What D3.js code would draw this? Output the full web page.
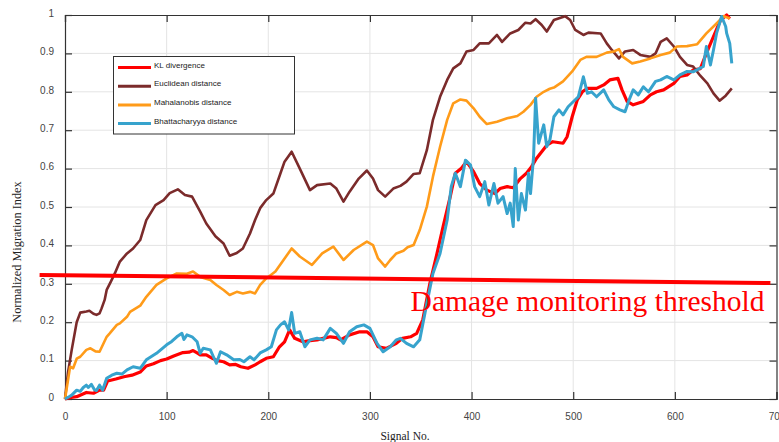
<!DOCTYPE html>
<html>
<head>
<meta charset="utf-8">
<script src="https://cdn.jsdelivr.net/npm/d3@7"></script>
<style>
  body { margin: 0; background: #fff; }
  svg { display: block; }
</style>
</head>
<body>
<svg id="chart"></svg>
<script>
// values: [signal no., normalized index]
const klDivergence = [[0,0],[6,0.004],[11.5,0.006],[21,0.017],[28,0.015],[34,0.023],[38,0.023],[42,0.047],[50,0.052],[58,0.058],[66,0.062],[74,0.07],[80,0.086],[87,0.092],[94,0.1],[100,0.104],[107,0.112],[116,0.121],[122,0.122],[126,0.126],[130,0.12],[133,0.115],[139,0.115],[145,0.106],[150,0.1],[156,0.097],[162,0.089],[168,0.09],[173,0.084],[180,0.08],[187,0.089],[192,0.097],[198,0.106],[205,0.11],[211,0.136],[216,0.149],[221,0.18],[226,0.158],[234,0.149],[241,0.152],[248,0.154],[254,0.158],[261,0.162],[267,0.16],[271,0.154],[280,0.167],[290,0.175],[297,0.175],[303,0.162],[308,0.136],[316,0.132],[326,0.145],[332,0.158],[340,0.162],[346,0.171],[352,0.206],[359,0.301],[366,0.379],[372,0.449],[379,0.527],[384,0.588],[390,0.601],[395,0.618],[402,0.592],[408,0.561],[415,0.544],[423,0.535],[428,0.548],[435,0.553],[441,0.55],[448,0.574],[454,0.588],[459,0.605],[464,0.627],[469,0.644],[474,0.661],[480,0.67],[485,0.668],[490,0.666],[494,0.683],[499,0.735],[504,0.779],[509,0.8],[514,0.809],[523,0.809],[530,0.818],[536,0.831],[544,0.835],[548,0.805],[553,0.775],[559,0.766],[569,0.775],[576,0.792],[582,0.8],[589,0.805],[599,0.822],[605,0.84],[612,0.844],[618,0.857],[625,0.86],[631,0.9],[638,0.944],[645,0.987],[651,1.0],[654,0.99]];

const euclidean = [[0,0],[3,0.07],[6.6,0.128],[11.5,0.2],[15,0.225],[21,0.228],[24,0.23],[28,0.222],[31,0.219],[34,0.223],[36,0.236],[39,0.258],[41,0.284],[45,0.305],[49,0.327],[54,0.358],[61,0.379],[67,0.392],[74,0.414],[80,0.466],[89,0.505],[97,0.518],[103,0.536],[111,0.546],[118,0.531],[125,0.527],[133,0.488],[139,0.457],[148,0.424],[156,0.405],[162,0.373],[169,0.38],[175,0.392],[182,0.431],[187,0.466],[192,0.497],[198,0.518],[205,0.535],[212,0.588],[216,0.618],[223,0.644],[231,0.6],[241,0.544],[248,0.557],[261,0.561],[267,0.548],[274,0.514],[280,0.54],[289,0.574],[297,0.595],[303,0.574],[308,0.544],[315,0.527],[323,0.548],[330,0.555],[336,0.566],[343,0.586],[349,0.588],[356,0.648],[362,0.727],[369,0.787],[376,0.831],[382,0.861],[389,0.874],[395,0.905],[402,0.909],[408,0.926],[417,0.926],[425,0.948],[430,0.93],[438,0.952],[446,0.961],[453,0.98],[458,0.978],[463,0.989],[469,0.974],[474,0.957],[481,0.987],[492,0.997],[497,0.987],[502,0.961],[510,0.948],[515,0.954],[527,0.952],[533,0.926],[538,0.909],[545,0.887],[551,0.905],[559,0.909],[566,0.896],[576,0.891],[581,0.9],[586,0.93],[592,0.939],[599,0.918],[605,0.891],[612,0.87],[618,0.866],[625,0.842],[632,0.822],[638,0.796],[644,0.777],[650,0.79],[656,0.809]];

const mahalanobis = [[0,0],[3,0.05],[5,0.084],[8,0.08],[11.5,0.105],[15,0.11],[21,0.128],[25,0.132],[30,0.124],[34,0.123],[41,0.162],[44,0.171],[51,0.193],[54,0.197],[61,0.214],[64,0.227],[74,0.243],[80,0.266],[90,0.297],[100,0.314],[110,0.327],[120,0.326],[126,0.332],[133,0.318],[143,0.31],[149,0.297],[156,0.284],[162,0.271],[169,0.279],[175,0.275],[182,0.279],[187,0.275],[192,0.297],[198,0.314],[207,0.332],[215,0.362],[223,0.392],[231,0.371],[243,0.349],[253,0.379],[264,0.397],[274,0.362],[284,0.388],[297,0.41],[303,0.401],[308,0.366],[315,0.345],[320,0.362],[326,0.379],[333,0.386],[337,0.395],[343,0.401],[349,0.44],[356,0.501],[362,0.579],[369,0.657],[376,0.727],[382,0.77],[389,0.78],[395,0.777],[402,0.757],[408,0.735],[415,0.716],[425,0.722],[435,0.731],[445,0.737],[451,0.748],[458,0.766],[464,0.787],[471,0.8],[477,0.808],[481,0.811],[490,0.827],[499,0.853],[507,0.883],[513,0.891],[523,0.891],[533,0.902],[540,0.905],[545,0.911],[549,0.891],[558,0.874],[566,0.879],[576,0.887],[586,0.896],[595,0.902],[602,0.918],[612,0.919],[618,0.922],[622,0.924],[631,0.952],[641,0.978],[648,0.997],[654,0.991]];

const bhattacharyya = [[0,0],[4,0.006],[6.6,0.01],[11.5,0.023],[15,0.02],[18,0.03],[21,0.036],[23,0.03],[26,0.038],[29,0.024],[31,0.022],[34,0.036],[37,0.023],[41,0.054],[46,0.062],[51,0.067],[56,0.065],[61,0.076],[67,0.084],[74,0.08],[80,0.102],[90,0.119],[100,0.141],[105,0.15],[110,0.162],[115,0.171],[117,0.155],[120,0.167],[125,0.162],[130,0.149],[133,0.119],[136,0.132],[143,0.128],[146,0.11],[149,0.093],[153,0.123],[159,0.115],[166,0.102],[172,0.103],[176,0.097],[182,0.11],[186,0.102],[192,0.12],[198,0.128],[203,0.136],[208,0.18],[212,0.193],[216,0.201],[220,0.18],[223,0.225],[226,0.171],[231,0.175],[236,0.136],[241,0.154],[248,0.158],[254,0.154],[261,0.184],[267,0.171],[274,0.145],[280,0.175],[287,0.188],[294,0.193],[300,0.184],[307,0.145],[313,0.123],[320,0.136],[326,0.154],[330,0.158],[336,0.145],[343,0.136],[349,0.154],[356,0.249],[362,0.327],[369,0.379],[376,0.466],[380,0.553],[384,0.588],[389,0.553],[394,0.622],[399,0.609],[403,0.553],[408,0.527],[413,0.566],[417,0.505],[422,0.561],[426,0.51],[431,0.527],[435,0.483],[438,0.51],[441,0.449],[443,0.6],[446,0.466],[449,0.535],[453,0.492],[456,0.588],[458,0.535],[461,0.631],[463,0.783],[466,0.666],[471,0.714],[474,0.657],[477,0.674],[481,0.735],[486,0.753],[490,0.74],[495,0.761],[500,0.774],[505,0.787],[510,0.839],[514,0.796],[518,0.8],[523,0.787],[530,0.805],[535,0.779],[540,0.761],[546,0.753],[551,0.748],[555,0.779],[559,0.805],[564,0.792],[569,0.813],[574,0.8],[581,0.827],[586,0.831],[592,0.84],[599,0.831],[605,0.844],[612,0.853],[618,0.852],[628,0.866],[631,0.918],[635,0.87],[638,0.909],[641,0.952],[646,0.996],[650,0.97],[651,0.952],[654,0.926],[656,0.874]];

// hand drawn threshold line and its label
const thresholdLine = [[-25, 0.323], [694, 0.302]];
const thresholdLabel = 'Damage monitoring threshold';

const seriesNames = ['KL divergence', 'Euclidean distance', 'Mahalanobis distance', 'Bhattacharyya distance'];
const seriesColors = ['#ff0000', '#7b2b2b', '#ff9b19', '#37a3cd'];
const xTicks = [0, 100, 200, 300, 400, 500, 600, 700];
const yTicks = [0, 0.1, 0.2, 0.3, 0.4, 0.5, 0.6, 0.7, 0.8, 0.9, 1];

var width = 779, height = 442;
var margin = {top: 15, right: 2.5, bottom: 43, left: 65};

const svg = d3.select('#chart')
    .attr('width', width)
    .attr('height', height);

const xScale = d3.scaleLinear()
    .domain([0, 700])
    .range([margin.left, width - margin.right]);

const yScale = d3.scaleLinear()
    .domain([0, 1])
    .range([height - margin.bottom, margin.top]);

const axisColor = '#333';

// grid
svg.append('g')
    .selectAll('line')
    .data(xTicks.slice(1, -1))
    .join('line')
    .attr('x1', d => xScale(d)).attr('x2', d => xScale(d))
    .attr('y1', yScale(0)).attr('y2', yScale(1))
    .attr('stroke', '#e4e4e4');

svg.append('g')
    .selectAll('line')
    .data(yTicks.slice(1, -1))
    .join('line')
    .attr('x1', xScale(0)).attr('x2', xScale(700))
    .attr('y1', d => yScale(d)).attr('y2', d => yScale(d))
    .attr('stroke', '#e4e4e4');

// axes, ticks pointing inside like matlab
const bottomAxis = svg.append('g')
    .attr('transform', 'translate(0,' + yScale(0) + ')')
    .call(d3.axisBottom(xScale).tickValues(xTicks).tickSize(-7).tickPadding(14).tickFormat(d => d));

const topAxis = svg.append('g')
    .attr('transform', 'translate(0,' + yScale(1) + ')')
    .call(d3.axisTop(xScale).tickValues(xTicks).tickSize(-7).tickFormat(''));

const leftAxis = svg.append('g')
    .attr('transform', 'translate(' + xScale(0) + ',0)')
    .call(d3.axisLeft(yScale).tickValues(yTicks).tickSize(-7).tickPadding(11).tickFormat(d => d));

const rightAxis = svg.append('g')
    .attr('transform', 'translate(' + xScale(700) + ',0)')
    .call(d3.axisRight(yScale).tickValues(yTicks).tickSize(-7).tickFormat(''));

[bottomAxis, topAxis, leftAxis, rightAxis].forEach(function(a){
    a.select('.domain').attr('stroke', axisColor).attr('stroke-width', 1.2);
    a.selectAll('.tick line').attr('stroke', axisColor).attr('stroke-width', 1.2);
    a.selectAll('.tick text')
        .attr('fill', '#444')
        .style('font-family', 'Liberation Sans, Arial, sans-serif')
        .style('font-size', '10px');
});
leftAxis.selectAll('.tick text').attr('dy', '0.12em');

// the four curves
const line = d3.line()
    .x(d => xScale(d[0]))
    .y(d => yScale(d[1]));

const allSeries = [klDivergence, euclidean, mahalanobis, bhattacharyya];
const widths = [3.2, 2.6, 2.6, 3];

svg.append('g')
    .selectAll('path')
    .data(allSeries)
    .join('path')
    .attr('d', line)
    .attr('fill', 'none')
    .attr('stroke', (d, i) => seriesColors[i])
    .attr('stroke-width', (d, i) => widths[i])
    .attr('stroke-linejoin', 'round');

// legend
const legend = svg.append('g');
legend.append('rect')
    .attr('x', 113.5).attr('y', 56.5)
    .attr('width', 181).attr('height', 77.5)
    .attr('fill', '#fff')
    .attr('stroke', '#333')
    .attr('stroke-width', 1);

const rows = legend.selectAll('.row')
    .data(seriesNames)
    .join('g')
    .classed('row', true)
    .attr('transform', (d, i) => 'translate(0,' + (67.5 + i * 18.7) + ')');

rows.append('line')
    .attr('x1', 118).attr('x2', 151)
    .attr('stroke', (d, i) => seriesColors[i])
    .attr('stroke-width', 3);

rows.append('text')
    .attr('x', 154).attr('y', 0)
    .attr('fill', '#222')
    .style('font-family', 'Liberation Sans, Arial, sans-serif')
    .style('font-size', '8px')
    .text(d => d);

// threshold
svg.append('path')
    .attr('d', line(thresholdLine))
    .attr('stroke', '#ff0000')
    .attr('stroke-width', 4)
    .attr('fill', 'none');

svg.append('text')
    .attr('x', xScale(340))
    .attr('y', yScale(0.229))
    .attr('fill', '#ff0000')
    .style('font-family', 'Liberation Serif, Times New Roman, serif')
    .style('font-size', '29.5px')
    .text(thresholdLabel);

// axis titles
svg.append('text')
    .attr('x', 405)
    .attr('y', 440)
    .attr('text-anchor', 'middle')
    .attr('fill', '#222')
    .style('font-family', 'Liberation Serif, Times New Roman, serif')
    .style('font-size', '11.5px')
    .text('Signal No.');

svg.append('text')
    .attr('transform', 'translate(21,252) rotate(-90)')
    .attr('text-anchor', 'middle')
    .attr('fill', '#222')
    .style('font-family', 'Liberation Serif, Times New Roman, serif')
    .style('font-size', '12.3px')
    .text('Normalized Migration Index');
</script>
</body>
</html>
